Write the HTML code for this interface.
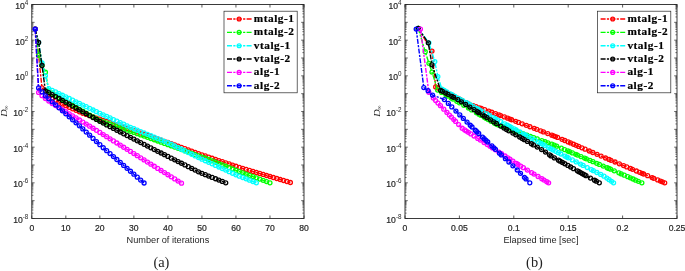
<!DOCTYPE html>
<html><head><meta charset="utf-8"><title>fig</title>
<style>
html,body{margin:0;padding:0;background:#fff;}
body{width:685px;height:271px;overflow:hidden;font-family:"Liberation Sans",sans-serif;}
svg{display:block;}
.tk{font-family:"Liberation Sans",sans-serif;font-size:8.6px;fill:#262626;stroke:#262626;stroke-width:0.2px;}
.sp{font-family:"Liberation Sans",sans-serif;font-size:6.3px;fill:#262626;}
.lb{font-family:"Liberation Sans",sans-serif;font-size:9.2px;fill:#262626;}
.cap{font-family:"Liberation Serif",serif;font-size:14.4px;fill:#222;}
.yl{font-family:"Liberation Serif",serif;font-size:9px;fill:#262626;}
.lg{font-family:"Liberation Serif",serif;font-weight:bold;font-size:10.5px;fill:#000;letter-spacing:0.5px;stroke:#000;stroke-width:0.2px;}
</style></head><body>
<svg width="685" height="271" viewBox="0 0 685 271">
<rect width="685" height="271" fill="#fff"/>
<g opacity="0.999">
<rect x="31.8" y="4.5" width="272.2" height="214.0" fill="none" stroke="#262626" stroke-width="0.9"/>
<path d="M31.80 218.5v-3M31.80 4.5v3" stroke="#262626" stroke-width="0.75"/>
<path d="M65.83 218.5v-3M65.83 4.5v3" stroke="#262626" stroke-width="0.75"/>
<path d="M99.85 218.5v-3M99.85 4.5v3" stroke="#262626" stroke-width="0.75"/>
<path d="M133.88 218.5v-3M133.88 4.5v3" stroke="#262626" stroke-width="0.75"/>
<path d="M167.90 218.5v-3M167.90 4.5v3" stroke="#262626" stroke-width="0.75"/>
<path d="M201.93 218.5v-3M201.93 4.5v3" stroke="#262626" stroke-width="0.75"/>
<path d="M235.95 218.5v-3M235.95 4.5v3" stroke="#262626" stroke-width="0.75"/>
<path d="M269.97 218.5v-3M269.97 4.5v3" stroke="#262626" stroke-width="0.75"/>
<path d="M304.00 218.5v-3M304.00 4.5v3" stroke="#262626" stroke-width="0.75"/>
<path d="M31.8 218.50h2.8M304 218.50h-2.8" stroke="#262626" stroke-width="0.7"/>
<path d="M31.8 213.13h1.6M304 213.13h-1.6" stroke="#262626" stroke-width="0.65"/>
<path d="M31.8 209.99h1.6M304 209.99h-1.6" stroke="#262626" stroke-width="0.65"/>
<path d="M31.8 207.76h1.6M304 207.76h-1.6" stroke="#262626" stroke-width="0.65"/>
<path d="M31.8 206.04h1.6M304 206.04h-1.6" stroke="#262626" stroke-width="0.65"/>
<path d="M31.8 204.62h1.6M304 204.62h-1.6" stroke="#262626" stroke-width="0.65"/>
<path d="M31.8 203.43h1.6M304 203.43h-1.6" stroke="#262626" stroke-width="0.65"/>
<path d="M31.8 202.39h1.6M304 202.39h-1.6" stroke="#262626" stroke-width="0.65"/>
<path d="M31.8 201.48h1.6M304 201.48h-1.6" stroke="#262626" stroke-width="0.65"/>
<path d="M31.8 200.67h2.8M304 200.67h-2.8" stroke="#262626" stroke-width="0.7"/>
<path d="M31.8 195.30h1.6M304 195.30h-1.6" stroke="#262626" stroke-width="0.65"/>
<path d="M31.8 192.16h1.6M304 192.16h-1.6" stroke="#262626" stroke-width="0.65"/>
<path d="M31.8 189.93h1.6M304 189.93h-1.6" stroke="#262626" stroke-width="0.65"/>
<path d="M31.8 188.20h1.6M304 188.20h-1.6" stroke="#262626" stroke-width="0.65"/>
<path d="M31.8 186.79h1.6M304 186.79h-1.6" stroke="#262626" stroke-width="0.65"/>
<path d="M31.8 185.60h1.6M304 185.60h-1.6" stroke="#262626" stroke-width="0.65"/>
<path d="M31.8 184.56h1.6M304 184.56h-1.6" stroke="#262626" stroke-width="0.65"/>
<path d="M31.8 183.65h1.6M304 183.65h-1.6" stroke="#262626" stroke-width="0.65"/>
<path d="M31.8 182.83h2.8M304 182.83h-2.8" stroke="#262626" stroke-width="0.7"/>
<path d="M31.8 177.46h1.6M304 177.46h-1.6" stroke="#262626" stroke-width="0.65"/>
<path d="M31.8 174.32h1.6M304 174.32h-1.6" stroke="#262626" stroke-width="0.65"/>
<path d="M31.8 172.10h1.6M304 172.10h-1.6" stroke="#262626" stroke-width="0.65"/>
<path d="M31.8 170.37h1.6M304 170.37h-1.6" stroke="#262626" stroke-width="0.65"/>
<path d="M31.8 168.96h1.6M304 168.96h-1.6" stroke="#262626" stroke-width="0.65"/>
<path d="M31.8 167.76h1.6M304 167.76h-1.6" stroke="#262626" stroke-width="0.65"/>
<path d="M31.8 166.73h1.6M304 166.73h-1.6" stroke="#262626" stroke-width="0.65"/>
<path d="M31.8 165.82h1.6M304 165.82h-1.6" stroke="#262626" stroke-width="0.65"/>
<path d="M31.8 165.00h2.8M304 165.00h-2.8" stroke="#262626" stroke-width="0.7"/>
<path d="M31.8 159.63h1.6M304 159.63h-1.6" stroke="#262626" stroke-width="0.65"/>
<path d="M31.8 156.49h1.6M304 156.49h-1.6" stroke="#262626" stroke-width="0.65"/>
<path d="M31.8 154.26h1.6M304 154.26h-1.6" stroke="#262626" stroke-width="0.65"/>
<path d="M31.8 152.54h1.6M304 152.54h-1.6" stroke="#262626" stroke-width="0.65"/>
<path d="M31.8 151.12h1.6M304 151.12h-1.6" stroke="#262626" stroke-width="0.65"/>
<path d="M31.8 149.93h1.6M304 149.93h-1.6" stroke="#262626" stroke-width="0.65"/>
<path d="M31.8 148.89h1.6M304 148.89h-1.6" stroke="#262626" stroke-width="0.65"/>
<path d="M31.8 147.98h1.6M304 147.98h-1.6" stroke="#262626" stroke-width="0.65"/>
<path d="M31.8 147.17h2.8M304 147.17h-2.8" stroke="#262626" stroke-width="0.7"/>
<path d="M31.8 141.80h1.6M304 141.80h-1.6" stroke="#262626" stroke-width="0.65"/>
<path d="M31.8 138.66h1.6M304 138.66h-1.6" stroke="#262626" stroke-width="0.65"/>
<path d="M31.8 136.43h1.6M304 136.43h-1.6" stroke="#262626" stroke-width="0.65"/>
<path d="M31.8 134.70h1.6M304 134.70h-1.6" stroke="#262626" stroke-width="0.65"/>
<path d="M31.8 133.29h1.6M304 133.29h-1.6" stroke="#262626" stroke-width="0.65"/>
<path d="M31.8 132.10h1.6M304 132.10h-1.6" stroke="#262626" stroke-width="0.65"/>
<path d="M31.8 131.06h1.6M304 131.06h-1.6" stroke="#262626" stroke-width="0.65"/>
<path d="M31.8 130.15h1.6M304 130.15h-1.6" stroke="#262626" stroke-width="0.65"/>
<path d="M31.8 129.33h2.8M304 129.33h-2.8" stroke="#262626" stroke-width="0.7"/>
<path d="M31.8 123.96h1.6M304 123.96h-1.6" stroke="#262626" stroke-width="0.65"/>
<path d="M31.8 120.82h1.6M304 120.82h-1.6" stroke="#262626" stroke-width="0.65"/>
<path d="M31.8 118.60h1.6M304 118.60h-1.6" stroke="#262626" stroke-width="0.65"/>
<path d="M31.8 116.87h1.6M304 116.87h-1.6" stroke="#262626" stroke-width="0.65"/>
<path d="M31.8 115.46h1.6M304 115.46h-1.6" stroke="#262626" stroke-width="0.65"/>
<path d="M31.8 114.26h1.6M304 114.26h-1.6" stroke="#262626" stroke-width="0.65"/>
<path d="M31.8 113.23h1.6M304 113.23h-1.6" stroke="#262626" stroke-width="0.65"/>
<path d="M31.8 112.32h1.6M304 112.32h-1.6" stroke="#262626" stroke-width="0.65"/>
<path d="M31.8 111.50h2.8M304 111.50h-2.8" stroke="#262626" stroke-width="0.7"/>
<path d="M31.8 106.13h1.6M304 106.13h-1.6" stroke="#262626" stroke-width="0.65"/>
<path d="M31.8 102.99h1.6M304 102.99h-1.6" stroke="#262626" stroke-width="0.65"/>
<path d="M31.8 100.76h1.6M304 100.76h-1.6" stroke="#262626" stroke-width="0.65"/>
<path d="M31.8 99.04h1.6M304 99.04h-1.6" stroke="#262626" stroke-width="0.65"/>
<path d="M31.8 97.62h1.6M304 97.62h-1.6" stroke="#262626" stroke-width="0.65"/>
<path d="M31.8 96.43h1.6M304 96.43h-1.6" stroke="#262626" stroke-width="0.65"/>
<path d="M31.8 95.39h1.6M304 95.39h-1.6" stroke="#262626" stroke-width="0.65"/>
<path d="M31.8 94.48h1.6M304 94.48h-1.6" stroke="#262626" stroke-width="0.65"/>
<path d="M31.8 93.67h2.8M304 93.67h-2.8" stroke="#262626" stroke-width="0.7"/>
<path d="M31.8 88.30h1.6M304 88.30h-1.6" stroke="#262626" stroke-width="0.65"/>
<path d="M31.8 85.16h1.6M304 85.16h-1.6" stroke="#262626" stroke-width="0.65"/>
<path d="M31.8 82.93h1.6M304 82.93h-1.6" stroke="#262626" stroke-width="0.65"/>
<path d="M31.8 81.20h1.6M304 81.20h-1.6" stroke="#262626" stroke-width="0.65"/>
<path d="M31.8 79.79h1.6M304 79.79h-1.6" stroke="#262626" stroke-width="0.65"/>
<path d="M31.8 78.60h1.6M304 78.60h-1.6" stroke="#262626" stroke-width="0.65"/>
<path d="M31.8 77.56h1.6M304 77.56h-1.6" stroke="#262626" stroke-width="0.65"/>
<path d="M31.8 76.65h1.6M304 76.65h-1.6" stroke="#262626" stroke-width="0.65"/>
<path d="M31.8 75.83h2.8M304 75.83h-2.8" stroke="#262626" stroke-width="0.7"/>
<path d="M31.8 70.46h1.6M304 70.46h-1.6" stroke="#262626" stroke-width="0.65"/>
<path d="M31.8 67.32h1.6M304 67.32h-1.6" stroke="#262626" stroke-width="0.65"/>
<path d="M31.8 65.10h1.6M304 65.10h-1.6" stroke="#262626" stroke-width="0.65"/>
<path d="M31.8 63.37h1.6M304 63.37h-1.6" stroke="#262626" stroke-width="0.65"/>
<path d="M31.8 61.96h1.6M304 61.96h-1.6" stroke="#262626" stroke-width="0.65"/>
<path d="M31.8 60.76h1.6M304 60.76h-1.6" stroke="#262626" stroke-width="0.65"/>
<path d="M31.8 59.73h1.6M304 59.73h-1.6" stroke="#262626" stroke-width="0.65"/>
<path d="M31.8 58.82h1.6M304 58.82h-1.6" stroke="#262626" stroke-width="0.65"/>
<path d="M31.8 58.00h2.8M304 58.00h-2.8" stroke="#262626" stroke-width="0.7"/>
<path d="M31.8 52.63h1.6M304 52.63h-1.6" stroke="#262626" stroke-width="0.65"/>
<path d="M31.8 49.49h1.6M304 49.49h-1.6" stroke="#262626" stroke-width="0.65"/>
<path d="M31.8 47.26h1.6M304 47.26h-1.6" stroke="#262626" stroke-width="0.65"/>
<path d="M31.8 45.54h1.6M304 45.54h-1.6" stroke="#262626" stroke-width="0.65"/>
<path d="M31.8 44.12h1.6M304 44.12h-1.6" stroke="#262626" stroke-width="0.65"/>
<path d="M31.8 42.93h1.6M304 42.93h-1.6" stroke="#262626" stroke-width="0.65"/>
<path d="M31.8 41.89h1.6M304 41.89h-1.6" stroke="#262626" stroke-width="0.65"/>
<path d="M31.8 40.98h1.6M304 40.98h-1.6" stroke="#262626" stroke-width="0.65"/>
<path d="M31.8 40.17h2.8M304 40.17h-2.8" stroke="#262626" stroke-width="0.7"/>
<path d="M31.8 34.80h1.6M304 34.80h-1.6" stroke="#262626" stroke-width="0.65"/>
<path d="M31.8 31.66h1.6M304 31.66h-1.6" stroke="#262626" stroke-width="0.65"/>
<path d="M31.8 29.43h1.6M304 29.43h-1.6" stroke="#262626" stroke-width="0.65"/>
<path d="M31.8 27.70h1.6M304 27.70h-1.6" stroke="#262626" stroke-width="0.65"/>
<path d="M31.8 26.29h1.6M304 26.29h-1.6" stroke="#262626" stroke-width="0.65"/>
<path d="M31.8 25.10h1.6M304 25.10h-1.6" stroke="#262626" stroke-width="0.65"/>
<path d="M31.8 24.06h1.6M304 24.06h-1.6" stroke="#262626" stroke-width="0.65"/>
<path d="M31.8 23.15h1.6M304 23.15h-1.6" stroke="#262626" stroke-width="0.65"/>
<path d="M31.8 22.33h2.8M304 22.33h-2.8" stroke="#262626" stroke-width="0.7"/>
<path d="M31.8 16.96h1.6M304 16.96h-1.6" stroke="#262626" stroke-width="0.65"/>
<path d="M31.8 13.82h1.6M304 13.82h-1.6" stroke="#262626" stroke-width="0.65"/>
<path d="M31.8 11.60h1.6M304 11.60h-1.6" stroke="#262626" stroke-width="0.65"/>
<path d="M31.8 9.87h1.6M304 9.87h-1.6" stroke="#262626" stroke-width="0.65"/>
<path d="M31.8 8.46h1.6M304 8.46h-1.6" stroke="#262626" stroke-width="0.65"/>
<path d="M31.8 7.26h1.6M304 7.26h-1.6" stroke="#262626" stroke-width="0.65"/>
<path d="M31.8 6.23h1.6M304 6.23h-1.6" stroke="#262626" stroke-width="0.65"/>
<path d="M31.8 5.32h1.6M304 5.32h-1.6" stroke="#262626" stroke-width="0.65"/>
<path d="M31.8 4.50h2.8M304 4.50h-2.8" stroke="#262626" stroke-width="0.7"/>
<text x="22.70" y="223.00" text-anchor="end" class="tk">10</text>
<text x="28.30" y="219.00" text-anchor="end" class="sp">-8</text>
<text x="22.70" y="187.33" text-anchor="end" class="tk">10</text>
<text x="28.30" y="183.33" text-anchor="end" class="sp">-6</text>
<text x="22.70" y="151.67" text-anchor="end" class="tk">10</text>
<text x="28.30" y="147.67" text-anchor="end" class="sp">-4</text>
<text x="22.70" y="116.00" text-anchor="end" class="tk">10</text>
<text x="28.30" y="112.00" text-anchor="end" class="sp">-2</text>
<text x="24.80" y="80.33" text-anchor="end" class="tk">10</text>
<text x="28.30" y="76.33" text-anchor="end" class="sp">0</text>
<text x="24.80" y="44.67" text-anchor="end" class="tk">10</text>
<text x="28.30" y="40.67" text-anchor="end" class="sp">2</text>
<text x="24.80" y="9.00" text-anchor="end" class="tk">10</text>
<text x="28.30" y="5.00" text-anchor="end" class="sp">4</text>
<text x="31.80" y="230.5" text-anchor="middle" class="tk">0</text>
<text x="65.83" y="230.5" text-anchor="middle" class="tk">10</text>
<text x="99.85" y="230.5" text-anchor="middle" class="tk">20</text>
<text x="133.88" y="230.5" text-anchor="middle" class="tk">30</text>
<text x="167.90" y="230.5" text-anchor="middle" class="tk">40</text>
<text x="201.93" y="230.5" text-anchor="middle" class="tk">50</text>
<text x="235.95" y="230.5" text-anchor="middle" class="tk">60</text>
<text x="269.97" y="230.5" text-anchor="middle" class="tk">70</text>
<text x="304.00" y="230.5" text-anchor="middle" class="tk">80</text>
<text x="167.90" y="242.5" text-anchor="middle" class="lb">Number of iterations</text>
<text x="161.40" y="267.1" text-anchor="middle" class="cap">(a)</text>
<text transform="translate(6.70,116.8) rotate(-90) scale(1.15,1)" class="yl"><tspan font-style="italic">D</tspan><tspan dy="1.5" dx="-0.6" font-size="5.5">∞</tspan></text>
<path d="M35.20 29.11 L38.61 55.32 L42.01 87.96 L45.41 91.35 L48.81 94.74 L52.22 98.12 L55.62 100.09 L59.02 102.05 L62.42 104.01 L65.83 105.64 L69.23 107.28 L72.63 108.82 L76.03 110.31 L79.44 111.80 L82.84 113.28 L86.24 114.47 L89.64 115.66 L93.05 116.85 L96.45 118.04 L99.85 119.20 L103.25 120.35 L106.66 121.50 L110.06 122.65 L113.46 123.80 L116.86 124.95 L120.27 126.10 L123.67 127.25 L127.07 128.40 L130.47 129.55 L133.88 130.70 L137.28 131.88 L140.68 133.05 L144.08 134.23 L147.48 135.41 L150.89 136.58 L154.29 137.76 L157.69 138.94 L161.09 140.12 L164.50 141.29 L167.90 142.48 L171.30 143.71 L174.71 144.95 L178.11 146.19 L181.51 147.43 L184.91 148.67 L188.31 149.91 L191.72 151.15 L195.12 152.39 L198.52 153.63 L201.93 154.81 L205.33 155.95 L208.73 157.10 L212.13 158.24 L215.54 159.38 L218.94 160.53 L222.34 161.67 L225.74 162.82 L229.15 163.96 L232.55 165.10 L235.95 166.25 L239.35 167.28 L242.75 168.30 L246.16 169.33 L249.56 170.36 L252.96 171.39 L256.36 172.42 L259.77 173.44 L263.17 174.47 L266.57 175.49 L269.97 176.48 L273.38 177.48 L276.78 178.48 L280.18 179.48 L283.58 180.48 L286.99 181.48 L290.39 182.48" fill="none" stroke="#ff0000" stroke-width="1.4" stroke-dasharray="5 1.3 2.2 1.3"/>
<g fill="none" stroke="#ff0000" stroke-width="1.3">
<circle cx="35.20" cy="29.11" r="2"/>
<circle cx="38.61" cy="55.32" r="2"/>
<circle cx="42.01" cy="87.96" r="2"/>
<circle cx="45.41" cy="91.35" r="2"/>
<circle cx="48.81" cy="94.74" r="2"/>
<circle cx="52.22" cy="98.12" r="2"/>
<circle cx="55.62" cy="100.09" r="2"/>
<circle cx="59.02" cy="102.05" r="2"/>
<circle cx="62.42" cy="104.01" r="2"/>
<circle cx="65.83" cy="105.64" r="2"/>
<circle cx="69.23" cy="107.28" r="2"/>
<circle cx="72.63" cy="108.82" r="2"/>
<circle cx="76.03" cy="110.31" r="2"/>
<circle cx="79.44" cy="111.80" r="2"/>
<circle cx="82.84" cy="113.28" r="2"/>
<circle cx="86.24" cy="114.47" r="2"/>
<circle cx="89.64" cy="115.66" r="2"/>
<circle cx="93.05" cy="116.85" r="2"/>
<circle cx="96.45" cy="118.04" r="2"/>
<circle cx="99.85" cy="119.20" r="2"/>
<circle cx="103.25" cy="120.35" r="2"/>
<circle cx="106.66" cy="121.50" r="2"/>
<circle cx="110.06" cy="122.65" r="2"/>
<circle cx="113.46" cy="123.80" r="2"/>
<circle cx="116.86" cy="124.95" r="2"/>
<circle cx="120.27" cy="126.10" r="2"/>
<circle cx="123.67" cy="127.25" r="2"/>
<circle cx="127.07" cy="128.40" r="2"/>
<circle cx="130.47" cy="129.55" r="2"/>
<circle cx="133.88" cy="130.70" r="2"/>
<circle cx="137.28" cy="131.88" r="2"/>
<circle cx="140.68" cy="133.05" r="2"/>
<circle cx="144.08" cy="134.23" r="2"/>
<circle cx="147.48" cy="135.41" r="2"/>
<circle cx="150.89" cy="136.58" r="2"/>
<circle cx="154.29" cy="137.76" r="2"/>
<circle cx="157.69" cy="138.94" r="2"/>
<circle cx="161.09" cy="140.12" r="2"/>
<circle cx="164.50" cy="141.29" r="2"/>
<circle cx="167.90" cy="142.48" r="2"/>
<circle cx="171.30" cy="143.71" r="2"/>
<circle cx="174.71" cy="144.95" r="2"/>
<circle cx="178.11" cy="146.19" r="2"/>
<circle cx="181.51" cy="147.43" r="2"/>
<circle cx="184.91" cy="148.67" r="2"/>
<circle cx="188.31" cy="149.91" r="2"/>
<circle cx="191.72" cy="151.15" r="2"/>
<circle cx="195.12" cy="152.39" r="2"/>
<circle cx="198.52" cy="153.63" r="2"/>
<circle cx="201.93" cy="154.81" r="2"/>
<circle cx="205.33" cy="155.95" r="2"/>
<circle cx="208.73" cy="157.10" r="2"/>
<circle cx="212.13" cy="158.24" r="2"/>
<circle cx="215.54" cy="159.38" r="2"/>
<circle cx="218.94" cy="160.53" r="2"/>
<circle cx="222.34" cy="161.67" r="2"/>
<circle cx="225.74" cy="162.82" r="2"/>
<circle cx="229.15" cy="163.96" r="2"/>
<circle cx="232.55" cy="165.10" r="2"/>
<circle cx="235.95" cy="166.25" r="2"/>
<circle cx="239.35" cy="167.28" r="2"/>
<circle cx="242.75" cy="168.30" r="2"/>
<circle cx="246.16" cy="169.33" r="2"/>
<circle cx="249.56" cy="170.36" r="2"/>
<circle cx="252.96" cy="171.39" r="2"/>
<circle cx="256.36" cy="172.42" r="2"/>
<circle cx="259.77" cy="173.44" r="2"/>
<circle cx="263.17" cy="174.47" r="2"/>
<circle cx="266.57" cy="175.49" r="2"/>
<circle cx="269.97" cy="176.48" r="2"/>
<circle cx="273.38" cy="177.48" r="2"/>
<circle cx="276.78" cy="178.48" r="2"/>
<circle cx="280.18" cy="179.48" r="2"/>
<circle cx="283.58" cy="180.48" r="2"/>
<circle cx="286.99" cy="181.48" r="2"/>
<circle cx="290.39" cy="182.48" r="2"/>
</g>
<path d="M35.20 29.11 L38.61 55.32 L42.01 65.13 L45.41 72.27 L48.81 90.99 L52.22 93.13 L55.62 95.27 L59.02 97.41 L62.42 99.55 L65.83 101.69 L69.23 103.60 L72.63 105.51 L76.03 107.42 L79.44 109.32 L82.84 111.23 L86.24 113.14 L89.64 115.05 L93.05 116.96 L96.45 118.87 L99.85 120.77 L103.25 121.94 L106.66 123.10 L110.06 124.26 L113.46 125.42 L116.86 126.58 L120.27 127.75 L123.67 128.91 L127.07 130.07 L130.47 131.24 L133.88 132.46 L137.28 133.68 L140.68 134.90 L144.08 136.12 L147.48 137.34 L150.89 138.55 L154.29 139.77 L157.69 140.99 L161.09 142.21 L164.50 143.43 L167.90 144.65 L171.30 145.88 L174.71 147.12 L178.11 148.36 L181.51 149.60 L184.91 150.84 L188.31 152.08 L191.72 153.31 L195.12 154.55 L198.52 155.79 L201.93 157.03 L205.33 158.27 L208.73 159.51 L212.13 160.82 L215.54 162.18 L218.94 163.55 L222.34 164.91 L225.74 166.27 L229.15 167.63 L232.55 168.99 L235.95 170.35 L239.35 171.60 L242.75 172.85 L246.16 174.09 L249.56 175.34 L252.96 176.59 L256.36 177.84 L259.77 179.09 L263.17 180.34 L266.57 181.59 L269.97 182.83" fill="none" stroke="#00ff00" stroke-width="1.4" stroke-dasharray="5 1.3 2.2 1.3"/>
<g fill="none" stroke="#00ff00" stroke-width="1.3">
<circle cx="35.20" cy="29.11" r="2"/>
<circle cx="38.61" cy="55.32" r="2"/>
<circle cx="42.01" cy="65.13" r="2"/>
<circle cx="45.41" cy="72.27" r="2"/>
<circle cx="48.81" cy="90.99" r="2"/>
<circle cx="52.22" cy="93.13" r="2"/>
<circle cx="55.62" cy="95.27" r="2"/>
<circle cx="59.02" cy="97.41" r="2"/>
<circle cx="62.42" cy="99.55" r="2"/>
<circle cx="65.83" cy="101.69" r="2"/>
<circle cx="69.23" cy="103.60" r="2"/>
<circle cx="72.63" cy="105.51" r="2"/>
<circle cx="76.03" cy="107.42" r="2"/>
<circle cx="79.44" cy="109.32" r="2"/>
<circle cx="82.84" cy="111.23" r="2"/>
<circle cx="86.24" cy="113.14" r="2"/>
<circle cx="89.64" cy="115.05" r="2"/>
<circle cx="93.05" cy="116.96" r="2"/>
<circle cx="96.45" cy="118.87" r="2"/>
<circle cx="99.85" cy="120.77" r="2"/>
<circle cx="103.25" cy="121.94" r="2"/>
<circle cx="106.66" cy="123.10" r="2"/>
<circle cx="110.06" cy="124.26" r="2"/>
<circle cx="113.46" cy="125.42" r="2"/>
<circle cx="116.86" cy="126.58" r="2"/>
<circle cx="120.27" cy="127.75" r="2"/>
<circle cx="123.67" cy="128.91" r="2"/>
<circle cx="127.07" cy="130.07" r="2"/>
<circle cx="130.47" cy="131.24" r="2"/>
<circle cx="133.88" cy="132.46" r="2"/>
<circle cx="137.28" cy="133.68" r="2"/>
<circle cx="140.68" cy="134.90" r="2"/>
<circle cx="144.08" cy="136.12" r="2"/>
<circle cx="147.48" cy="137.34" r="2"/>
<circle cx="150.89" cy="138.55" r="2"/>
<circle cx="154.29" cy="139.77" r="2"/>
<circle cx="157.69" cy="140.99" r="2"/>
<circle cx="161.09" cy="142.21" r="2"/>
<circle cx="164.50" cy="143.43" r="2"/>
<circle cx="167.90" cy="144.65" r="2"/>
<circle cx="171.30" cy="145.88" r="2"/>
<circle cx="174.71" cy="147.12" r="2"/>
<circle cx="178.11" cy="148.36" r="2"/>
<circle cx="181.51" cy="149.60" r="2"/>
<circle cx="184.91" cy="150.84" r="2"/>
<circle cx="188.31" cy="152.08" r="2"/>
<circle cx="191.72" cy="153.31" r="2"/>
<circle cx="195.12" cy="154.55" r="2"/>
<circle cx="198.52" cy="155.79" r="2"/>
<circle cx="201.93" cy="157.03" r="2"/>
<circle cx="205.33" cy="158.27" r="2"/>
<circle cx="208.73" cy="159.51" r="2"/>
<circle cx="212.13" cy="160.82" r="2"/>
<circle cx="215.54" cy="162.18" r="2"/>
<circle cx="218.94" cy="163.55" r="2"/>
<circle cx="222.34" cy="164.91" r="2"/>
<circle cx="225.74" cy="166.27" r="2"/>
<circle cx="229.15" cy="167.63" r="2"/>
<circle cx="232.55" cy="168.99" r="2"/>
<circle cx="235.95" cy="170.35" r="2"/>
<circle cx="239.35" cy="171.60" r="2"/>
<circle cx="242.75" cy="172.85" r="2"/>
<circle cx="246.16" cy="174.09" r="2"/>
<circle cx="249.56" cy="175.34" r="2"/>
<circle cx="252.96" cy="176.59" r="2"/>
<circle cx="256.36" cy="177.84" r="2"/>
<circle cx="259.77" cy="179.09" r="2"/>
<circle cx="263.17" cy="180.34" r="2"/>
<circle cx="266.57" cy="181.59" r="2"/>
<circle cx="269.97" cy="182.83" r="2"/>
</g>
<path d="M35.20 29.11 L38.61 42.48 L42.01 62.99 L45.41 75.83 L48.81 88.67 L52.22 90.31 L55.62 91.95 L59.02 93.60 L62.42 95.24 L65.83 96.88 L69.23 98.52 L72.63 100.16 L76.03 101.80 L79.44 103.44 L82.84 105.08 L86.24 106.72 L89.64 108.36 L93.05 110.00 L96.45 111.64 L99.85 113.28 L103.25 114.85 L106.66 116.41 L110.06 117.97 L113.46 119.54 L116.86 121.10 L120.27 122.66 L123.67 124.22 L127.07 125.79 L130.47 127.33 L133.88 128.74 L137.28 130.14 L140.68 131.54 L144.08 132.94 L147.48 134.34 L150.89 135.75 L154.29 137.15 L157.69 138.55 L161.09 139.95 L164.50 141.36 L167.90 142.76 L171.30 144.26 L174.71 145.93 L178.11 147.59 L181.51 149.25 L184.91 150.91 L188.31 152.57 L191.72 154.24 L195.12 155.90 L198.52 157.56 L201.93 159.16 L205.33 160.73 L208.73 162.29 L212.13 163.86 L215.54 165.42 L218.94 166.99 L222.34 168.55 L225.74 170.11 L229.15 171.68 L232.55 173.24 L235.95 174.81 L239.35 176.15 L242.75 177.48 L246.16 178.82 L249.56 180.16 L252.96 181.50 L256.36 182.83" fill="none" stroke="#00ffff" stroke-width="1.4" stroke-dasharray="5 1.3 2.2 1.3"/>
<g fill="none" stroke="#00ffff" stroke-width="1.3">
<circle cx="35.20" cy="29.11" r="2"/>
<circle cx="38.61" cy="42.48" r="2"/>
<circle cx="42.01" cy="62.99" r="2"/>
<circle cx="45.41" cy="75.83" r="2"/>
<circle cx="48.81" cy="88.67" r="2"/>
<circle cx="52.22" cy="90.31" r="2"/>
<circle cx="55.62" cy="91.95" r="2"/>
<circle cx="59.02" cy="93.60" r="2"/>
<circle cx="62.42" cy="95.24" r="2"/>
<circle cx="65.83" cy="96.88" r="2"/>
<circle cx="69.23" cy="98.52" r="2"/>
<circle cx="72.63" cy="100.16" r="2"/>
<circle cx="76.03" cy="101.80" r="2"/>
<circle cx="79.44" cy="103.44" r="2"/>
<circle cx="82.84" cy="105.08" r="2"/>
<circle cx="86.24" cy="106.72" r="2"/>
<circle cx="89.64" cy="108.36" r="2"/>
<circle cx="93.05" cy="110.00" r="2"/>
<circle cx="96.45" cy="111.64" r="2"/>
<circle cx="99.85" cy="113.28" r="2"/>
<circle cx="103.25" cy="114.85" r="2"/>
<circle cx="106.66" cy="116.41" r="2"/>
<circle cx="110.06" cy="117.97" r="2"/>
<circle cx="113.46" cy="119.54" r="2"/>
<circle cx="116.86" cy="121.10" r="2"/>
<circle cx="120.27" cy="122.66" r="2"/>
<circle cx="123.67" cy="124.22" r="2"/>
<circle cx="127.07" cy="125.79" r="2"/>
<circle cx="130.47" cy="127.33" r="2"/>
<circle cx="133.88" cy="128.74" r="2"/>
<circle cx="137.28" cy="130.14" r="2"/>
<circle cx="140.68" cy="131.54" r="2"/>
<circle cx="144.08" cy="132.94" r="2"/>
<circle cx="147.48" cy="134.34" r="2"/>
<circle cx="150.89" cy="135.75" r="2"/>
<circle cx="154.29" cy="137.15" r="2"/>
<circle cx="157.69" cy="138.55" r="2"/>
<circle cx="161.09" cy="139.95" r="2"/>
<circle cx="164.50" cy="141.36" r="2"/>
<circle cx="167.90" cy="142.76" r="2"/>
<circle cx="171.30" cy="144.26" r="2"/>
<circle cx="174.71" cy="145.93" r="2"/>
<circle cx="178.11" cy="147.59" r="2"/>
<circle cx="181.51" cy="149.25" r="2"/>
<circle cx="184.91" cy="150.91" r="2"/>
<circle cx="188.31" cy="152.57" r="2"/>
<circle cx="191.72" cy="154.24" r="2"/>
<circle cx="195.12" cy="155.90" r="2"/>
<circle cx="198.52" cy="157.56" r="2"/>
<circle cx="201.93" cy="159.16" r="2"/>
<circle cx="205.33" cy="160.73" r="2"/>
<circle cx="208.73" cy="162.29" r="2"/>
<circle cx="212.13" cy="163.86" r="2"/>
<circle cx="215.54" cy="165.42" r="2"/>
<circle cx="218.94" cy="166.99" r="2"/>
<circle cx="222.34" cy="168.55" r="2"/>
<circle cx="225.74" cy="170.11" r="2"/>
<circle cx="229.15" cy="171.68" r="2"/>
<circle cx="232.55" cy="173.24" r="2"/>
<circle cx="235.95" cy="174.81" r="2"/>
<circle cx="239.35" cy="176.15" r="2"/>
<circle cx="242.75" cy="177.48" r="2"/>
<circle cx="246.16" cy="178.82" r="2"/>
<circle cx="249.56" cy="180.16" r="2"/>
<circle cx="252.96" cy="181.50" r="2"/>
<circle cx="256.36" cy="182.83" r="2"/>
</g>
<path d="M35.20 29.11 L38.61 42.48 L42.01 65.49 L45.41 90.99 L48.81 92.77 L52.22 94.68 L55.62 96.58 L59.02 98.48 L62.42 100.38 L65.83 102.29 L69.23 104.19 L72.63 106.09 L76.03 107.99 L79.44 109.89 L82.84 111.80 L86.24 113.70 L89.64 115.60 L93.05 117.50 L96.45 119.41 L99.85 121.31 L103.25 123.09 L106.66 124.88 L110.06 126.66 L113.46 128.44 L116.86 130.23 L120.27 132.01 L123.67 133.79 L127.07 135.57 L130.47 137.36 L133.88 139.11 L137.28 140.86 L140.68 142.61 L144.08 144.37 L147.48 146.12 L150.89 147.87 L154.29 149.58 L157.69 151.29 L161.09 153.00 L164.50 154.71 L167.90 156.42 L171.30 158.13 L174.71 159.84 L178.11 161.55 L181.51 163.26 L184.91 164.97 L188.31 166.68 L191.72 168.39 L195.12 170.10 L198.52 171.81 L201.93 173.31 L205.33 174.67 L208.73 176.03 L212.13 177.39 L215.54 178.75 L218.94 180.11 L222.34 181.47 L225.74 182.83" fill="none" stroke="#000000" stroke-width="1.4" stroke-dasharray="5 1.3 2.2 1.3"/>
<g fill="none" stroke="#000000" stroke-width="1.3">
<circle cx="35.20" cy="29.11" r="2"/>
<circle cx="38.61" cy="42.48" r="2"/>
<circle cx="42.01" cy="65.49" r="2"/>
<circle cx="45.41" cy="90.99" r="2"/>
<circle cx="48.81" cy="92.77" r="2"/>
<circle cx="52.22" cy="94.68" r="2"/>
<circle cx="55.62" cy="96.58" r="2"/>
<circle cx="59.02" cy="98.48" r="2"/>
<circle cx="62.42" cy="100.38" r="2"/>
<circle cx="65.83" cy="102.29" r="2"/>
<circle cx="69.23" cy="104.19" r="2"/>
<circle cx="72.63" cy="106.09" r="2"/>
<circle cx="76.03" cy="107.99" r="2"/>
<circle cx="79.44" cy="109.89" r="2"/>
<circle cx="82.84" cy="111.80" r="2"/>
<circle cx="86.24" cy="113.70" r="2"/>
<circle cx="89.64" cy="115.60" r="2"/>
<circle cx="93.05" cy="117.50" r="2"/>
<circle cx="96.45" cy="119.41" r="2"/>
<circle cx="99.85" cy="121.31" r="2"/>
<circle cx="103.25" cy="123.09" r="2"/>
<circle cx="106.66" cy="124.88" r="2"/>
<circle cx="110.06" cy="126.66" r="2"/>
<circle cx="113.46" cy="128.44" r="2"/>
<circle cx="116.86" cy="130.23" r="2"/>
<circle cx="120.27" cy="132.01" r="2"/>
<circle cx="123.67" cy="133.79" r="2"/>
<circle cx="127.07" cy="135.57" r="2"/>
<circle cx="130.47" cy="137.36" r="2"/>
<circle cx="133.88" cy="139.11" r="2"/>
<circle cx="137.28" cy="140.86" r="2"/>
<circle cx="140.68" cy="142.61" r="2"/>
<circle cx="144.08" cy="144.37" r="2"/>
<circle cx="147.48" cy="146.12" r="2"/>
<circle cx="150.89" cy="147.87" r="2"/>
<circle cx="154.29" cy="149.58" r="2"/>
<circle cx="157.69" cy="151.29" r="2"/>
<circle cx="161.09" cy="153.00" r="2"/>
<circle cx="164.50" cy="154.71" r="2"/>
<circle cx="167.90" cy="156.42" r="2"/>
<circle cx="171.30" cy="158.13" r="2"/>
<circle cx="174.71" cy="159.84" r="2"/>
<circle cx="178.11" cy="161.55" r="2"/>
<circle cx="181.51" cy="163.26" r="2"/>
<circle cx="184.91" cy="164.97" r="2"/>
<circle cx="188.31" cy="166.68" r="2"/>
<circle cx="191.72" cy="168.39" r="2"/>
<circle cx="195.12" cy="170.10" r="2"/>
<circle cx="198.52" cy="171.81" r="2"/>
<circle cx="201.93" cy="173.31" r="2"/>
<circle cx="205.33" cy="174.67" r="2"/>
<circle cx="208.73" cy="176.03" r="2"/>
<circle cx="212.13" cy="177.39" r="2"/>
<circle cx="215.54" cy="178.75" r="2"/>
<circle cx="218.94" cy="180.11" r="2"/>
<circle cx="222.34" cy="181.47" r="2"/>
<circle cx="225.74" cy="182.83" r="2"/>
</g>
<path d="M35.20 29.11 L38.61 92.42 L42.01 95.63 L45.41 98.48 L48.81 100.98 L52.22 103.48 L55.62 105.54 L59.02 107.60 L62.42 109.67 L65.83 111.73 L69.23 113.80 L72.63 115.86 L76.03 117.92 L79.44 119.99 L82.84 122.05 L86.24 124.12 L89.64 126.18 L93.05 128.25 L96.45 130.32 L99.85 132.44 L103.25 134.55 L106.66 136.67 L110.06 138.78 L113.46 140.90 L116.86 143.01 L120.27 145.13 L123.67 147.24 L127.07 149.36 L130.47 151.47 L133.88 153.59 L137.28 155.70 L140.68 157.81 L144.08 159.93 L147.48 162.04 L150.89 164.16 L154.29 166.27 L157.69 168.39 L161.09 170.50 L164.50 172.62 L167.90 174.73 L171.30 176.85 L174.71 178.96 L178.11 181.08 L181.51 183.19" fill="none" stroke="#ff00ff" stroke-width="1.4" stroke-dasharray="5 1.3 2.2 1.3"/>
<g fill="none" stroke="#ff00ff" stroke-width="1.3">
<circle cx="35.20" cy="29.11" r="2"/>
<circle cx="38.61" cy="92.42" r="2"/>
<circle cx="42.01" cy="95.63" r="2"/>
<circle cx="45.41" cy="98.48" r="2"/>
<circle cx="48.81" cy="100.98" r="2"/>
<circle cx="52.22" cy="103.48" r="2"/>
<circle cx="55.62" cy="105.54" r="2"/>
<circle cx="59.02" cy="107.60" r="2"/>
<circle cx="62.42" cy="109.67" r="2"/>
<circle cx="65.83" cy="111.73" r="2"/>
<circle cx="69.23" cy="113.80" r="2"/>
<circle cx="72.63" cy="115.86" r="2"/>
<circle cx="76.03" cy="117.92" r="2"/>
<circle cx="79.44" cy="119.99" r="2"/>
<circle cx="82.84" cy="122.05" r="2"/>
<circle cx="86.24" cy="124.12" r="2"/>
<circle cx="89.64" cy="126.18" r="2"/>
<circle cx="93.05" cy="128.25" r="2"/>
<circle cx="96.45" cy="130.32" r="2"/>
<circle cx="99.85" cy="132.44" r="2"/>
<circle cx="103.25" cy="134.55" r="2"/>
<circle cx="106.66" cy="136.67" r="2"/>
<circle cx="110.06" cy="138.78" r="2"/>
<circle cx="113.46" cy="140.90" r="2"/>
<circle cx="116.86" cy="143.01" r="2"/>
<circle cx="120.27" cy="145.13" r="2"/>
<circle cx="123.67" cy="147.24" r="2"/>
<circle cx="127.07" cy="149.36" r="2"/>
<circle cx="130.47" cy="151.47" r="2"/>
<circle cx="133.88" cy="153.59" r="2"/>
<circle cx="137.28" cy="155.70" r="2"/>
<circle cx="140.68" cy="157.81" r="2"/>
<circle cx="144.08" cy="159.93" r="2"/>
<circle cx="147.48" cy="162.04" r="2"/>
<circle cx="150.89" cy="164.16" r="2"/>
<circle cx="154.29" cy="166.27" r="2"/>
<circle cx="157.69" cy="168.39" r="2"/>
<circle cx="161.09" cy="170.50" r="2"/>
<circle cx="164.50" cy="172.62" r="2"/>
<circle cx="167.90" cy="174.73" r="2"/>
<circle cx="171.30" cy="176.85" r="2"/>
<circle cx="174.71" cy="178.96" r="2"/>
<circle cx="178.11" cy="181.08" r="2"/>
<circle cx="181.51" cy="183.19" r="2"/>
</g>
<path d="M35.20 29.11 L38.61 87.96 L42.01 91.88 L45.41 95.81 L48.81 98.81 L52.22 101.82 L55.62 104.82 L59.02 107.83 L62.42 110.83 L65.83 113.84 L69.23 116.84 L72.63 119.85 L76.03 122.85 L79.44 125.86 L82.84 128.90 L86.24 132.06 L89.64 135.22 L93.05 138.38 L96.45 141.54 L99.85 144.70 L103.25 147.74 L106.66 150.68 L110.06 153.62 L113.46 156.56 L116.86 159.50 L120.27 162.44 L123.67 165.38 L127.07 168.32 L130.47 171.26 L133.88 174.19 L137.28 177.13 L140.68 180.07 L144.08 183.01" fill="none" stroke="#0000ff" stroke-width="1.4" stroke-dasharray="5 1.3 2.2 1.3"/>
<g fill="none" stroke="#0000ff" stroke-width="1.3">
<circle cx="35.20" cy="29.11" r="2" fill="#0000ff" fill-opacity="0.55"/>
<circle cx="38.61" cy="87.96" r="2"/>
<circle cx="42.01" cy="91.88" r="2"/>
<circle cx="45.41" cy="95.81" r="2"/>
<circle cx="48.81" cy="98.81" r="2"/>
<circle cx="52.22" cy="101.82" r="2"/>
<circle cx="55.62" cy="104.82" r="2"/>
<circle cx="59.02" cy="107.83" r="2"/>
<circle cx="62.42" cy="110.83" r="2"/>
<circle cx="65.83" cy="113.84" r="2"/>
<circle cx="69.23" cy="116.84" r="2"/>
<circle cx="72.63" cy="119.85" r="2"/>
<circle cx="76.03" cy="122.85" r="2"/>
<circle cx="79.44" cy="125.86" r="2"/>
<circle cx="82.84" cy="128.90" r="2"/>
<circle cx="86.24" cy="132.06" r="2"/>
<circle cx="89.64" cy="135.22" r="2"/>
<circle cx="93.05" cy="138.38" r="2"/>
<circle cx="96.45" cy="141.54" r="2"/>
<circle cx="99.85" cy="144.70" r="2"/>
<circle cx="103.25" cy="147.74" r="2"/>
<circle cx="106.66" cy="150.68" r="2"/>
<circle cx="110.06" cy="153.62" r="2"/>
<circle cx="113.46" cy="156.56" r="2"/>
<circle cx="116.86" cy="159.50" r="2"/>
<circle cx="120.27" cy="162.44" r="2"/>
<circle cx="123.67" cy="165.38" r="2"/>
<circle cx="127.07" cy="168.32" r="2"/>
<circle cx="130.47" cy="171.26" r="2"/>
<circle cx="133.88" cy="174.19" r="2"/>
<circle cx="137.28" cy="177.13" r="2"/>
<circle cx="140.68" cy="180.07" r="2"/>
<circle cx="144.08" cy="183.01" r="2"/>
</g>
<rect x="224" y="11.2" width="73.2" height="81.6" fill="#fff" stroke="#262626" stroke-width="0.7"/>
<path d="M227 19.00h24.8" stroke="#ff0000" stroke-width="1.4" stroke-dasharray="5 1.3 2.2 1.3" fill="none"/>
<circle cx="239.1" cy="19.00" r="1.9" fill="none" stroke="#ff0000" stroke-width="1.3"/>
<text transform="translate(253.8,21.90) scale(1.075,1)" class="lg">mtalg-1</text>
<path d="M227 32.35h24.8" stroke="#00ff00" stroke-width="1.4" stroke-dasharray="5 1.3 2.2 1.3" fill="none"/>
<circle cx="239.1" cy="32.35" r="1.9" fill="none" stroke="#00ff00" stroke-width="1.3"/>
<text transform="translate(253.8,35.25) scale(1.075,1)" class="lg">mtalg-2</text>
<path d="M227 45.70h24.8" stroke="#00ffff" stroke-width="1.4" stroke-dasharray="5 1.3 2.2 1.3" fill="none"/>
<circle cx="239.1" cy="45.70" r="1.9" fill="none" stroke="#00ffff" stroke-width="1.3"/>
<text transform="translate(253.8,48.60) scale(1.075,1)" class="lg">vtalg-1</text>
<path d="M227 59.05h24.8" stroke="#000000" stroke-width="1.4" stroke-dasharray="5 1.3 2.2 1.3" fill="none"/>
<circle cx="239.1" cy="59.05" r="1.9" fill="none" stroke="#000000" stroke-width="1.3"/>
<text transform="translate(253.8,61.95) scale(1.075,1)" class="lg">vtalg-2</text>
<path d="M227 72.40h24.8" stroke="#ff00ff" stroke-width="1.4" stroke-dasharray="5 1.3 2.2 1.3" fill="none"/>
<circle cx="239.1" cy="72.40" r="1.9" fill="none" stroke="#ff00ff" stroke-width="1.3"/>
<text transform="translate(253.8,75.30) scale(1.075,1)" class="lg">alg-1</text>
<path d="M227 85.75h24.8" stroke="#0000ff" stroke-width="1.4" stroke-dasharray="5 1.3 2.2 1.3" fill="none"/>
<circle cx="239.1" cy="85.75" r="1.9" fill="none" stroke="#0000ff" stroke-width="1.3"/>
<text transform="translate(253.8,88.65) scale(1.075,1)" class="lg">alg-2</text>
<rect x="405.0" y="4.5" width="272.0" height="214.0" fill="none" stroke="#262626" stroke-width="0.9"/>
<path d="M405.00 218.5v-3M405.00 4.5v3" stroke="#262626" stroke-width="0.75"/>
<path d="M459.40 218.5v-3M459.40 4.5v3" stroke="#262626" stroke-width="0.75"/>
<path d="M513.80 218.5v-3M513.80 4.5v3" stroke="#262626" stroke-width="0.75"/>
<path d="M568.20 218.5v-3M568.20 4.5v3" stroke="#262626" stroke-width="0.75"/>
<path d="M622.60 218.5v-3M622.60 4.5v3" stroke="#262626" stroke-width="0.75"/>
<path d="M677.00 218.5v-3M677.00 4.5v3" stroke="#262626" stroke-width="0.75"/>
<path d="M405.0 218.50h2.8M677 218.50h-2.8" stroke="#262626" stroke-width="0.7"/>
<path d="M405.0 213.13h1.6M677 213.13h-1.6" stroke="#262626" stroke-width="0.65"/>
<path d="M405.0 209.99h1.6M677 209.99h-1.6" stroke="#262626" stroke-width="0.65"/>
<path d="M405.0 207.76h1.6M677 207.76h-1.6" stroke="#262626" stroke-width="0.65"/>
<path d="M405.0 206.04h1.6M677 206.04h-1.6" stroke="#262626" stroke-width="0.65"/>
<path d="M405.0 204.62h1.6M677 204.62h-1.6" stroke="#262626" stroke-width="0.65"/>
<path d="M405.0 203.43h1.6M677 203.43h-1.6" stroke="#262626" stroke-width="0.65"/>
<path d="M405.0 202.39h1.6M677 202.39h-1.6" stroke="#262626" stroke-width="0.65"/>
<path d="M405.0 201.48h1.6M677 201.48h-1.6" stroke="#262626" stroke-width="0.65"/>
<path d="M405.0 200.67h2.8M677 200.67h-2.8" stroke="#262626" stroke-width="0.7"/>
<path d="M405.0 195.30h1.6M677 195.30h-1.6" stroke="#262626" stroke-width="0.65"/>
<path d="M405.0 192.16h1.6M677 192.16h-1.6" stroke="#262626" stroke-width="0.65"/>
<path d="M405.0 189.93h1.6M677 189.93h-1.6" stroke="#262626" stroke-width="0.65"/>
<path d="M405.0 188.20h1.6M677 188.20h-1.6" stroke="#262626" stroke-width="0.65"/>
<path d="M405.0 186.79h1.6M677 186.79h-1.6" stroke="#262626" stroke-width="0.65"/>
<path d="M405.0 185.60h1.6M677 185.60h-1.6" stroke="#262626" stroke-width="0.65"/>
<path d="M405.0 184.56h1.6M677 184.56h-1.6" stroke="#262626" stroke-width="0.65"/>
<path d="M405.0 183.65h1.6M677 183.65h-1.6" stroke="#262626" stroke-width="0.65"/>
<path d="M405.0 182.83h2.8M677 182.83h-2.8" stroke="#262626" stroke-width="0.7"/>
<path d="M405.0 177.46h1.6M677 177.46h-1.6" stroke="#262626" stroke-width="0.65"/>
<path d="M405.0 174.32h1.6M677 174.32h-1.6" stroke="#262626" stroke-width="0.65"/>
<path d="M405.0 172.10h1.6M677 172.10h-1.6" stroke="#262626" stroke-width="0.65"/>
<path d="M405.0 170.37h1.6M677 170.37h-1.6" stroke="#262626" stroke-width="0.65"/>
<path d="M405.0 168.96h1.6M677 168.96h-1.6" stroke="#262626" stroke-width="0.65"/>
<path d="M405.0 167.76h1.6M677 167.76h-1.6" stroke="#262626" stroke-width="0.65"/>
<path d="M405.0 166.73h1.6M677 166.73h-1.6" stroke="#262626" stroke-width="0.65"/>
<path d="M405.0 165.82h1.6M677 165.82h-1.6" stroke="#262626" stroke-width="0.65"/>
<path d="M405.0 165.00h2.8M677 165.00h-2.8" stroke="#262626" stroke-width="0.7"/>
<path d="M405.0 159.63h1.6M677 159.63h-1.6" stroke="#262626" stroke-width="0.65"/>
<path d="M405.0 156.49h1.6M677 156.49h-1.6" stroke="#262626" stroke-width="0.65"/>
<path d="M405.0 154.26h1.6M677 154.26h-1.6" stroke="#262626" stroke-width="0.65"/>
<path d="M405.0 152.54h1.6M677 152.54h-1.6" stroke="#262626" stroke-width="0.65"/>
<path d="M405.0 151.12h1.6M677 151.12h-1.6" stroke="#262626" stroke-width="0.65"/>
<path d="M405.0 149.93h1.6M677 149.93h-1.6" stroke="#262626" stroke-width="0.65"/>
<path d="M405.0 148.89h1.6M677 148.89h-1.6" stroke="#262626" stroke-width="0.65"/>
<path d="M405.0 147.98h1.6M677 147.98h-1.6" stroke="#262626" stroke-width="0.65"/>
<path d="M405.0 147.17h2.8M677 147.17h-2.8" stroke="#262626" stroke-width="0.7"/>
<path d="M405.0 141.80h1.6M677 141.80h-1.6" stroke="#262626" stroke-width="0.65"/>
<path d="M405.0 138.66h1.6M677 138.66h-1.6" stroke="#262626" stroke-width="0.65"/>
<path d="M405.0 136.43h1.6M677 136.43h-1.6" stroke="#262626" stroke-width="0.65"/>
<path d="M405.0 134.70h1.6M677 134.70h-1.6" stroke="#262626" stroke-width="0.65"/>
<path d="M405.0 133.29h1.6M677 133.29h-1.6" stroke="#262626" stroke-width="0.65"/>
<path d="M405.0 132.10h1.6M677 132.10h-1.6" stroke="#262626" stroke-width="0.65"/>
<path d="M405.0 131.06h1.6M677 131.06h-1.6" stroke="#262626" stroke-width="0.65"/>
<path d="M405.0 130.15h1.6M677 130.15h-1.6" stroke="#262626" stroke-width="0.65"/>
<path d="M405.0 129.33h2.8M677 129.33h-2.8" stroke="#262626" stroke-width="0.7"/>
<path d="M405.0 123.96h1.6M677 123.96h-1.6" stroke="#262626" stroke-width="0.65"/>
<path d="M405.0 120.82h1.6M677 120.82h-1.6" stroke="#262626" stroke-width="0.65"/>
<path d="M405.0 118.60h1.6M677 118.60h-1.6" stroke="#262626" stroke-width="0.65"/>
<path d="M405.0 116.87h1.6M677 116.87h-1.6" stroke="#262626" stroke-width="0.65"/>
<path d="M405.0 115.46h1.6M677 115.46h-1.6" stroke="#262626" stroke-width="0.65"/>
<path d="M405.0 114.26h1.6M677 114.26h-1.6" stroke="#262626" stroke-width="0.65"/>
<path d="M405.0 113.23h1.6M677 113.23h-1.6" stroke="#262626" stroke-width="0.65"/>
<path d="M405.0 112.32h1.6M677 112.32h-1.6" stroke="#262626" stroke-width="0.65"/>
<path d="M405.0 111.50h2.8M677 111.50h-2.8" stroke="#262626" stroke-width="0.7"/>
<path d="M405.0 106.13h1.6M677 106.13h-1.6" stroke="#262626" stroke-width="0.65"/>
<path d="M405.0 102.99h1.6M677 102.99h-1.6" stroke="#262626" stroke-width="0.65"/>
<path d="M405.0 100.76h1.6M677 100.76h-1.6" stroke="#262626" stroke-width="0.65"/>
<path d="M405.0 99.04h1.6M677 99.04h-1.6" stroke="#262626" stroke-width="0.65"/>
<path d="M405.0 97.62h1.6M677 97.62h-1.6" stroke="#262626" stroke-width="0.65"/>
<path d="M405.0 96.43h1.6M677 96.43h-1.6" stroke="#262626" stroke-width="0.65"/>
<path d="M405.0 95.39h1.6M677 95.39h-1.6" stroke="#262626" stroke-width="0.65"/>
<path d="M405.0 94.48h1.6M677 94.48h-1.6" stroke="#262626" stroke-width="0.65"/>
<path d="M405.0 93.67h2.8M677 93.67h-2.8" stroke="#262626" stroke-width="0.7"/>
<path d="M405.0 88.30h1.6M677 88.30h-1.6" stroke="#262626" stroke-width="0.65"/>
<path d="M405.0 85.16h1.6M677 85.16h-1.6" stroke="#262626" stroke-width="0.65"/>
<path d="M405.0 82.93h1.6M677 82.93h-1.6" stroke="#262626" stroke-width="0.65"/>
<path d="M405.0 81.20h1.6M677 81.20h-1.6" stroke="#262626" stroke-width="0.65"/>
<path d="M405.0 79.79h1.6M677 79.79h-1.6" stroke="#262626" stroke-width="0.65"/>
<path d="M405.0 78.60h1.6M677 78.60h-1.6" stroke="#262626" stroke-width="0.65"/>
<path d="M405.0 77.56h1.6M677 77.56h-1.6" stroke="#262626" stroke-width="0.65"/>
<path d="M405.0 76.65h1.6M677 76.65h-1.6" stroke="#262626" stroke-width="0.65"/>
<path d="M405.0 75.83h2.8M677 75.83h-2.8" stroke="#262626" stroke-width="0.7"/>
<path d="M405.0 70.46h1.6M677 70.46h-1.6" stroke="#262626" stroke-width="0.65"/>
<path d="M405.0 67.32h1.6M677 67.32h-1.6" stroke="#262626" stroke-width="0.65"/>
<path d="M405.0 65.10h1.6M677 65.10h-1.6" stroke="#262626" stroke-width="0.65"/>
<path d="M405.0 63.37h1.6M677 63.37h-1.6" stroke="#262626" stroke-width="0.65"/>
<path d="M405.0 61.96h1.6M677 61.96h-1.6" stroke="#262626" stroke-width="0.65"/>
<path d="M405.0 60.76h1.6M677 60.76h-1.6" stroke="#262626" stroke-width="0.65"/>
<path d="M405.0 59.73h1.6M677 59.73h-1.6" stroke="#262626" stroke-width="0.65"/>
<path d="M405.0 58.82h1.6M677 58.82h-1.6" stroke="#262626" stroke-width="0.65"/>
<path d="M405.0 58.00h2.8M677 58.00h-2.8" stroke="#262626" stroke-width="0.7"/>
<path d="M405.0 52.63h1.6M677 52.63h-1.6" stroke="#262626" stroke-width="0.65"/>
<path d="M405.0 49.49h1.6M677 49.49h-1.6" stroke="#262626" stroke-width="0.65"/>
<path d="M405.0 47.26h1.6M677 47.26h-1.6" stroke="#262626" stroke-width="0.65"/>
<path d="M405.0 45.54h1.6M677 45.54h-1.6" stroke="#262626" stroke-width="0.65"/>
<path d="M405.0 44.12h1.6M677 44.12h-1.6" stroke="#262626" stroke-width="0.65"/>
<path d="M405.0 42.93h1.6M677 42.93h-1.6" stroke="#262626" stroke-width="0.65"/>
<path d="M405.0 41.89h1.6M677 41.89h-1.6" stroke="#262626" stroke-width="0.65"/>
<path d="M405.0 40.98h1.6M677 40.98h-1.6" stroke="#262626" stroke-width="0.65"/>
<path d="M405.0 40.17h2.8M677 40.17h-2.8" stroke="#262626" stroke-width="0.7"/>
<path d="M405.0 34.80h1.6M677 34.80h-1.6" stroke="#262626" stroke-width="0.65"/>
<path d="M405.0 31.66h1.6M677 31.66h-1.6" stroke="#262626" stroke-width="0.65"/>
<path d="M405.0 29.43h1.6M677 29.43h-1.6" stroke="#262626" stroke-width="0.65"/>
<path d="M405.0 27.70h1.6M677 27.70h-1.6" stroke="#262626" stroke-width="0.65"/>
<path d="M405.0 26.29h1.6M677 26.29h-1.6" stroke="#262626" stroke-width="0.65"/>
<path d="M405.0 25.10h1.6M677 25.10h-1.6" stroke="#262626" stroke-width="0.65"/>
<path d="M405.0 24.06h1.6M677 24.06h-1.6" stroke="#262626" stroke-width="0.65"/>
<path d="M405.0 23.15h1.6M677 23.15h-1.6" stroke="#262626" stroke-width="0.65"/>
<path d="M405.0 22.33h2.8M677 22.33h-2.8" stroke="#262626" stroke-width="0.7"/>
<path d="M405.0 16.96h1.6M677 16.96h-1.6" stroke="#262626" stroke-width="0.65"/>
<path d="M405.0 13.82h1.6M677 13.82h-1.6" stroke="#262626" stroke-width="0.65"/>
<path d="M405.0 11.60h1.6M677 11.60h-1.6" stroke="#262626" stroke-width="0.65"/>
<path d="M405.0 9.87h1.6M677 9.87h-1.6" stroke="#262626" stroke-width="0.65"/>
<path d="M405.0 8.46h1.6M677 8.46h-1.6" stroke="#262626" stroke-width="0.65"/>
<path d="M405.0 7.26h1.6M677 7.26h-1.6" stroke="#262626" stroke-width="0.65"/>
<path d="M405.0 6.23h1.6M677 6.23h-1.6" stroke="#262626" stroke-width="0.65"/>
<path d="M405.0 5.32h1.6M677 5.32h-1.6" stroke="#262626" stroke-width="0.65"/>
<path d="M405.0 4.50h2.8M677 4.50h-2.8" stroke="#262626" stroke-width="0.7"/>
<text x="395.90" y="223.00" text-anchor="end" class="tk">10</text>
<text x="401.50" y="219.00" text-anchor="end" class="sp">-8</text>
<text x="395.90" y="187.33" text-anchor="end" class="tk">10</text>
<text x="401.50" y="183.33" text-anchor="end" class="sp">-6</text>
<text x="395.90" y="151.67" text-anchor="end" class="tk">10</text>
<text x="401.50" y="147.67" text-anchor="end" class="sp">-4</text>
<text x="395.90" y="116.00" text-anchor="end" class="tk">10</text>
<text x="401.50" y="112.00" text-anchor="end" class="sp">-2</text>
<text x="398.00" y="80.33" text-anchor="end" class="tk">10</text>
<text x="401.50" y="76.33" text-anchor="end" class="sp">0</text>
<text x="398.00" y="44.67" text-anchor="end" class="tk">10</text>
<text x="401.50" y="40.67" text-anchor="end" class="sp">2</text>
<text x="398.00" y="9.00" text-anchor="end" class="tk">10</text>
<text x="401.50" y="5.00" text-anchor="end" class="sp">4</text>
<text x="405.00" y="230.5" text-anchor="middle" class="tk">0</text>
<text x="459.40" y="230.5" text-anchor="middle" class="tk">0.05</text>
<text x="513.80" y="230.5" text-anchor="middle" class="tk">0.1</text>
<text x="568.20" y="230.5" text-anchor="middle" class="tk">0.15</text>
<text x="622.60" y="230.5" text-anchor="middle" class="tk">0.2</text>
<text x="677.00" y="230.5" text-anchor="middle" class="tk">0.25</text>
<text x="541.00" y="242.5" text-anchor="middle" class="lb">Elapsed time [sec]</text>
<text x="534.50" y="267.1" text-anchor="middle" class="cap">(b)</text>
<text transform="translate(379.90,116.8) rotate(-90) scale(1.15,1)" class="yl"><tspan font-style="italic">D</tspan><tspan dy="1.5" dx="-0.6" font-size="5.5">∞</tspan></text>
<path d="M418.27 28.40 L431.98 51.05 L435.68 86.89 L437.88 88.02 L440.98 89.61 L443.57 90.94 L446.85 92.62 L450.20 94.34 L451.88 95.20 L453.40 95.99 L457.38 98.03 L459.64 99.18 L461.82 100.31 L466.27 102.59 L469.15 104.07 L473.13 105.58 L476.03 106.61 L479.42 107.82 L481.35 108.51 L484.73 109.71 L488.79 111.16 L491.84 112.25 L495.53 113.56 L499.01 114.89 L500.69 115.54 L504.43 116.97 L507.67 118.21 L510.05 119.12 L511.63 119.73 L515.69 121.28 L518.59 122.39 L522.21 123.78 L526.31 125.35 L529.92 126.73 L534.15 128.35 L536.81 129.37 L540.67 130.85 L543.48 131.93 L547.75 133.56 L551.85 135.13 L553.63 135.81 L555.52 136.54 L557.65 137.44 L562.01 139.31 L564.79 140.50 L568.14 141.94 L570.52 142.96 L573.52 144.24 L576.15 145.37 L578.68 146.46 L581.91 147.84 L585.13 149.22 L589.31 151.02 L592.82 152.52 L597.07 154.34 L601.10 156.07 L605.54 157.98 L609.02 159.47 L610.99 160.31 L615.04 162.02 L619.39 163.84 L623.57 165.59 L626.75 166.93 L630.36 168.44 L632.47 169.32 L636.43 170.98 L639.62 172.32 L641.96 173.30 L643.63 174.00 L647.66 175.69 L652.09 177.54 L653.84 178.28 L657.70 179.90 L660.41 181.03 L662.35 181.84 L664.71 182.83" fill="none" stroke="#ff0000" stroke-width="1.4" stroke-dasharray="5 1.3 2.2 1.3"/>
<g fill="none" stroke="#ff0000" stroke-width="1.3">
<circle cx="418.27" cy="28.40" r="2"/>
<circle cx="431.98" cy="51.05" r="2"/>
<circle cx="435.68" cy="86.89" r="2"/>
<circle cx="437.88" cy="88.02" r="2"/>
<circle cx="440.98" cy="89.61" r="2"/>
<circle cx="443.57" cy="90.94" r="2"/>
<circle cx="446.85" cy="92.62" r="2"/>
<circle cx="450.20" cy="94.34" r="2"/>
<circle cx="451.88" cy="95.20" r="2"/>
<circle cx="453.40" cy="95.99" r="2"/>
<circle cx="457.38" cy="98.03" r="2"/>
<circle cx="459.64" cy="99.18" r="2"/>
<circle cx="461.82" cy="100.31" r="2"/>
<circle cx="466.27" cy="102.59" r="2"/>
<circle cx="469.15" cy="104.07" r="2"/>
<circle cx="473.13" cy="105.58" r="2"/>
<circle cx="476.03" cy="106.61" r="2"/>
<circle cx="479.42" cy="107.82" r="2"/>
<circle cx="481.35" cy="108.51" r="2"/>
<circle cx="484.73" cy="109.71" r="2"/>
<circle cx="488.79" cy="111.16" r="2"/>
<circle cx="491.84" cy="112.25" r="2"/>
<circle cx="495.53" cy="113.56" r="2"/>
<circle cx="499.01" cy="114.89" r="2"/>
<circle cx="500.69" cy="115.54" r="2"/>
<circle cx="504.43" cy="116.97" r="2"/>
<circle cx="507.67" cy="118.21" r="2"/>
<circle cx="510.05" cy="119.12" r="2"/>
<circle cx="511.63" cy="119.73" r="2"/>
<circle cx="515.69" cy="121.28" r="2"/>
<circle cx="518.59" cy="122.39" r="2"/>
<circle cx="522.21" cy="123.78" r="2"/>
<circle cx="526.31" cy="125.35" r="2"/>
<circle cx="529.92" cy="126.73" r="2"/>
<circle cx="534.15" cy="128.35" r="2"/>
<circle cx="536.81" cy="129.37" r="2"/>
<circle cx="540.67" cy="130.85" r="2"/>
<circle cx="543.48" cy="131.93" r="2"/>
<circle cx="547.75" cy="133.56" r="2"/>
<circle cx="551.85" cy="135.13" r="2"/>
<circle cx="553.63" cy="135.81" r="2"/>
<circle cx="555.52" cy="136.54" r="2"/>
<circle cx="557.65" cy="137.44" r="2"/>
<circle cx="562.01" cy="139.31" r="2"/>
<circle cx="564.79" cy="140.50" r="2"/>
<circle cx="568.14" cy="141.94" r="2"/>
<circle cx="570.52" cy="142.96" r="2"/>
<circle cx="573.52" cy="144.24" r="2"/>
<circle cx="576.15" cy="145.37" r="2"/>
<circle cx="578.68" cy="146.46" r="2"/>
<circle cx="581.91" cy="147.84" r="2"/>
<circle cx="585.13" cy="149.22" r="2"/>
<circle cx="589.31" cy="151.02" r="2"/>
<circle cx="592.82" cy="152.52" r="2"/>
<circle cx="597.07" cy="154.34" r="2"/>
<circle cx="601.10" cy="156.07" r="2"/>
<circle cx="605.54" cy="157.98" r="2"/>
<circle cx="609.02" cy="159.47" r="2"/>
<circle cx="610.99" cy="160.31" r="2"/>
<circle cx="615.04" cy="162.02" r="2"/>
<circle cx="619.39" cy="163.84" r="2"/>
<circle cx="623.57" cy="165.59" r="2"/>
<circle cx="626.75" cy="166.93" r="2"/>
<circle cx="630.36" cy="168.44" r="2"/>
<circle cx="632.47" cy="169.32" r="2"/>
<circle cx="636.43" cy="170.98" r="2"/>
<circle cx="639.62" cy="172.32" r="2"/>
<circle cx="641.96" cy="173.30" r="2"/>
<circle cx="643.63" cy="174.00" r="2"/>
<circle cx="647.66" cy="175.69" r="2"/>
<circle cx="652.09" cy="177.54" r="2"/>
<circle cx="653.84" cy="178.28" r="2"/>
<circle cx="657.70" cy="179.90" r="2"/>
<circle cx="660.41" cy="181.03" r="2"/>
<circle cx="662.35" cy="181.84" r="2"/>
<circle cx="664.71" cy="182.83" r="2"/>
</g>
<path d="M418.27 28.40 L425.24 51.76 L428.94 63.35 L431.98 72.09 L437.64 90.10 L441.65 92.44 L445.99 94.97 L447.71 95.98 L451.24 98.03 L452.96 99.04 L456.81 101.28 L459.44 102.82 L463.81 105.36 L468.49 108.09 L471.67 109.95 L476.41 112.71 L478.97 114.20 L480.79 115.27 L484.27 117.30 L485.95 118.28 L488.16 119.56 L491.03 121.24 L494.54 123.28 L496.61 124.30 L498.33 124.92 L502.66 126.48 L505.23 127.41 L509.84 129.07 L514.26 130.67 L517.03 131.67 L520.07 132.76 L523.30 133.93 L526.91 135.23 L530.38 136.48 L533.73 137.69 L537.27 138.97 L541.83 140.61 L545.01 141.76 L547.95 142.83 L551.81 144.22 L554.15 145.07 L556.68 146.15 L561.35 148.15 L564.58 149.53 L567.90 150.95 L569.51 151.65 L572.41 152.89 L575.82 154.35 L577.47 155.05 L581.00 156.56 L584.58 158.10 L586.35 158.86 L589.91 160.38 L592.97 161.69 L596.70 163.29 L599.39 164.44 L603.21 166.08 L607.12 167.75 L608.78 168.46 L610.55 169.22 L614.27 170.83 L618.90 172.84 L621.27 173.88 L624.29 175.19 L627.75 176.69 L630.34 177.82 L633.07 179.01 L635.64 180.13 L638.39 181.33 L641.86 182.83" fill="none" stroke="#00ff00" stroke-width="1.4" stroke-dasharray="5 1.3 2.2 1.3"/>
<g fill="none" stroke="#00ff00" stroke-width="1.3">
<circle cx="418.27" cy="28.40" r="2"/>
<circle cx="425.24" cy="51.76" r="2"/>
<circle cx="428.94" cy="63.35" r="2"/>
<circle cx="431.98" cy="72.09" r="2"/>
<circle cx="437.64" cy="90.10" r="2"/>
<circle cx="441.65" cy="92.44" r="2"/>
<circle cx="445.99" cy="94.97" r="2"/>
<circle cx="447.71" cy="95.98" r="2"/>
<circle cx="451.24" cy="98.03" r="2"/>
<circle cx="452.96" cy="99.04" r="2"/>
<circle cx="456.81" cy="101.28" r="2"/>
<circle cx="459.44" cy="102.82" r="2"/>
<circle cx="463.81" cy="105.36" r="2"/>
<circle cx="468.49" cy="108.09" r="2"/>
<circle cx="471.67" cy="109.95" r="2"/>
<circle cx="476.41" cy="112.71" r="2"/>
<circle cx="478.97" cy="114.20" r="2"/>
<circle cx="480.79" cy="115.27" r="2"/>
<circle cx="484.27" cy="117.30" r="2"/>
<circle cx="485.95" cy="118.28" r="2"/>
<circle cx="488.16" cy="119.56" r="2"/>
<circle cx="491.03" cy="121.24" r="2"/>
<circle cx="494.54" cy="123.28" r="2"/>
<circle cx="496.61" cy="124.30" r="2"/>
<circle cx="498.33" cy="124.92" r="2"/>
<circle cx="502.66" cy="126.48" r="2"/>
<circle cx="505.23" cy="127.41" r="2"/>
<circle cx="509.84" cy="129.07" r="2"/>
<circle cx="514.26" cy="130.67" r="2"/>
<circle cx="517.03" cy="131.67" r="2"/>
<circle cx="520.07" cy="132.76" r="2"/>
<circle cx="523.30" cy="133.93" r="2"/>
<circle cx="526.91" cy="135.23" r="2"/>
<circle cx="530.38" cy="136.48" r="2"/>
<circle cx="533.73" cy="137.69" r="2"/>
<circle cx="537.27" cy="138.97" r="2"/>
<circle cx="541.83" cy="140.61" r="2"/>
<circle cx="545.01" cy="141.76" r="2"/>
<circle cx="547.95" cy="142.83" r="2"/>
<circle cx="551.81" cy="144.22" r="2"/>
<circle cx="554.15" cy="145.07" r="2"/>
<circle cx="556.68" cy="146.15" r="2"/>
<circle cx="561.35" cy="148.15" r="2"/>
<circle cx="564.58" cy="149.53" r="2"/>
<circle cx="567.90" cy="150.95" r="2"/>
<circle cx="569.51" cy="151.65" r="2"/>
<circle cx="572.41" cy="152.89" r="2"/>
<circle cx="575.82" cy="154.35" r="2"/>
<circle cx="577.47" cy="155.05" r="2"/>
<circle cx="581.00" cy="156.56" r="2"/>
<circle cx="584.58" cy="158.10" r="2"/>
<circle cx="586.35" cy="158.86" r="2"/>
<circle cx="589.91" cy="160.38" r="2"/>
<circle cx="592.97" cy="161.69" r="2"/>
<circle cx="596.70" cy="163.29" r="2"/>
<circle cx="599.39" cy="164.44" r="2"/>
<circle cx="603.21" cy="166.08" r="2"/>
<circle cx="607.12" cy="167.75" r="2"/>
<circle cx="608.78" cy="168.46" r="2"/>
<circle cx="610.55" cy="169.22" r="2"/>
<circle cx="614.27" cy="170.83" r="2"/>
<circle cx="618.90" cy="172.84" r="2"/>
<circle cx="621.27" cy="173.88" r="2"/>
<circle cx="624.29" cy="175.19" r="2"/>
<circle cx="627.75" cy="176.69" r="2"/>
<circle cx="630.34" cy="177.82" r="2"/>
<circle cx="633.07" cy="179.01" r="2"/>
<circle cx="635.64" cy="180.13" r="2"/>
<circle cx="638.39" cy="181.33" r="2"/>
<circle cx="641.86" cy="182.83" r="2"/>
</g>
<path d="M418.27 28.40 L428.94 42.84 L434.81 61.57 L437.86 76.55 L441.99 89.21 L444.26 90.46 L446.75 91.84 L450.36 93.84 L451.86 94.66 L454.89 96.34 L458.40 98.28 L460.70 99.55 L462.75 100.68 L466.45 102.73 L468.55 103.89 L470.50 104.96 L473.15 106.43 L476.55 108.31 L478.26 109.26 L480.59 110.54 L482.96 111.85 L486.74 113.94 L489.41 115.42 L493.25 117.54 L495.15 118.59 L497.53 119.91 L500.79 121.68 L504.72 123.81 L507.42 125.27 L509.48 126.39 L511.24 127.34 L514.16 128.93 L516.12 129.99 L519.83 132.00 L523.63 134.06 L525.57 135.11 L527.78 136.31 L531.49 138.32 L534.73 140.07 L538.44 142.08 L540.84 143.38 L542.63 144.35 L544.87 145.57 L548.55 147.56 L550.73 148.74 L553.14 150.01 L555.74 151.35 L558.35 152.69 L560.93 154.01 L564.96 156.09 L566.82 157.04 L568.26 157.78 L572.35 159.88 L576.27 161.90 L580.49 164.06 L583.14 165.43 L587.26 167.54 L591.31 169.62 L593.36 170.68 L596.89 172.49 L600.69 174.44 L603.99 176.14 L606.88 178.04 L609.12 179.64 L611.50 181.35 L613.57 182.83" fill="none" stroke="#00ffff" stroke-width="1.4" stroke-dasharray="5 1.3 2.2 1.3"/>
<g fill="none" stroke="#00ffff" stroke-width="1.3">
<circle cx="418.27" cy="28.40" r="2"/>
<circle cx="428.94" cy="42.84" r="2"/>
<circle cx="434.81" cy="61.57" r="2"/>
<circle cx="437.86" cy="76.55" r="2"/>
<circle cx="441.99" cy="89.21" r="2"/>
<circle cx="444.26" cy="90.46" r="2"/>
<circle cx="446.75" cy="91.84" r="2"/>
<circle cx="450.36" cy="93.84" r="2"/>
<circle cx="451.86" cy="94.66" r="2"/>
<circle cx="454.89" cy="96.34" r="2"/>
<circle cx="458.40" cy="98.28" r="2"/>
<circle cx="460.70" cy="99.55" r="2"/>
<circle cx="462.75" cy="100.68" r="2"/>
<circle cx="466.45" cy="102.73" r="2"/>
<circle cx="468.55" cy="103.89" r="2"/>
<circle cx="470.50" cy="104.96" r="2"/>
<circle cx="473.15" cy="106.43" r="2"/>
<circle cx="476.55" cy="108.31" r="2"/>
<circle cx="478.26" cy="109.26" r="2"/>
<circle cx="480.59" cy="110.54" r="2"/>
<circle cx="482.96" cy="111.85" r="2"/>
<circle cx="486.74" cy="113.94" r="2"/>
<circle cx="489.41" cy="115.42" r="2"/>
<circle cx="493.25" cy="117.54" r="2"/>
<circle cx="495.15" cy="118.59" r="2"/>
<circle cx="497.53" cy="119.91" r="2"/>
<circle cx="500.79" cy="121.68" r="2"/>
<circle cx="504.72" cy="123.81" r="2"/>
<circle cx="507.42" cy="125.27" r="2"/>
<circle cx="509.48" cy="126.39" r="2"/>
<circle cx="511.24" cy="127.34" r="2"/>
<circle cx="514.16" cy="128.93" r="2"/>
<circle cx="516.12" cy="129.99" r="2"/>
<circle cx="519.83" cy="132.00" r="2"/>
<circle cx="523.63" cy="134.06" r="2"/>
<circle cx="525.57" cy="135.11" r="2"/>
<circle cx="527.78" cy="136.31" r="2"/>
<circle cx="531.49" cy="138.32" r="2"/>
<circle cx="534.73" cy="140.07" r="2"/>
<circle cx="538.44" cy="142.08" r="2"/>
<circle cx="540.84" cy="143.38" r="2"/>
<circle cx="542.63" cy="144.35" r="2"/>
<circle cx="544.87" cy="145.57" r="2"/>
<circle cx="548.55" cy="147.56" r="2"/>
<circle cx="550.73" cy="148.74" r="2"/>
<circle cx="553.14" cy="150.01" r="2"/>
<circle cx="555.74" cy="151.35" r="2"/>
<circle cx="558.35" cy="152.69" r="2"/>
<circle cx="560.93" cy="154.01" r="2"/>
<circle cx="564.96" cy="156.09" r="2"/>
<circle cx="566.82" cy="157.04" r="2"/>
<circle cx="568.26" cy="157.78" r="2"/>
<circle cx="572.35" cy="159.88" r="2"/>
<circle cx="576.27" cy="161.90" r="2"/>
<circle cx="580.49" cy="164.06" r="2"/>
<circle cx="583.14" cy="165.43" r="2"/>
<circle cx="587.26" cy="167.54" r="2"/>
<circle cx="591.31" cy="169.62" r="2"/>
<circle cx="593.36" cy="170.68" r="2"/>
<circle cx="596.89" cy="172.49" r="2"/>
<circle cx="600.69" cy="174.44" r="2"/>
<circle cx="603.99" cy="176.14" r="2"/>
<circle cx="606.88" cy="178.04" r="2"/>
<circle cx="609.12" cy="179.64" r="2"/>
<circle cx="611.50" cy="181.35" r="2"/>
<circle cx="613.57" cy="182.83" r="2"/>
</g>
<path d="M418.27 28.40 L428.28 42.84 L431.98 64.78 L440.69 90.46 L442.39 91.37 L445.66 93.11 L448.03 94.36 L451.97 96.46 L453.61 97.33 L457.82 99.61 L461.41 101.83 L465.69 104.48 L469.89 107.08 L474.09 109.69 L477.33 111.69 L478.87 112.65 L482.61 114.96 L484.63 116.21 L487.03 117.70 L490.53 119.87 L493.61 121.78 L496.35 123.48 L500.68 126.11 L504.02 128.03 L506.55 129.48 L508.81 130.78 L512.90 133.12 L515.84 134.81 L519.69 137.02 L522.25 138.48 L524.35 139.69 L527.46 141.47 L531.41 143.74 L533.43 144.90 L537.31 147.12 L541.59 149.57 L545.51 152.06 L549.49 154.84 L551.01 155.91 L554.40 157.92 L558.50 160.21 L560.15 161.14 L562.47 162.44 L564.78 163.73 L567.87 165.46 L570.64 167.01 L573.56 168.65 L577.40 170.80 L578.91 171.65 L580.57 172.58 L582.46 173.64 L584.33 174.69 L586.04 175.64 L590.47 178.04 L594.54 180.25 L596.31 181.20 L599.32 182.83" fill="none" stroke="#000000" stroke-width="1.4" stroke-dasharray="5 1.3 2.2 1.3"/>
<g fill="none" stroke="#000000" stroke-width="1.3">
<circle cx="418.27" cy="28.40" r="2"/>
<circle cx="428.28" cy="42.84" r="2"/>
<circle cx="431.98" cy="64.78" r="2"/>
<circle cx="440.69" cy="90.46" r="2"/>
<circle cx="442.39" cy="91.37" r="2"/>
<circle cx="445.66" cy="93.11" r="2"/>
<circle cx="448.03" cy="94.36" r="2"/>
<circle cx="451.97" cy="96.46" r="2"/>
<circle cx="453.61" cy="97.33" r="2"/>
<circle cx="457.82" cy="99.61" r="2"/>
<circle cx="461.41" cy="101.83" r="2"/>
<circle cx="465.69" cy="104.48" r="2"/>
<circle cx="469.89" cy="107.08" r="2"/>
<circle cx="474.09" cy="109.69" r="2"/>
<circle cx="477.33" cy="111.69" r="2"/>
<circle cx="478.87" cy="112.65" r="2"/>
<circle cx="482.61" cy="114.96" r="2"/>
<circle cx="484.63" cy="116.21" r="2"/>
<circle cx="487.03" cy="117.70" r="2"/>
<circle cx="490.53" cy="119.87" r="2"/>
<circle cx="493.61" cy="121.78" r="2"/>
<circle cx="496.35" cy="123.48" r="2"/>
<circle cx="500.68" cy="126.11" r="2"/>
<circle cx="504.02" cy="128.03" r="2"/>
<circle cx="506.55" cy="129.48" r="2"/>
<circle cx="508.81" cy="130.78" r="2"/>
<circle cx="512.90" cy="133.12" r="2"/>
<circle cx="515.84" cy="134.81" r="2"/>
<circle cx="519.69" cy="137.02" r="2"/>
<circle cx="522.25" cy="138.48" r="2"/>
<circle cx="524.35" cy="139.69" r="2"/>
<circle cx="527.46" cy="141.47" r="2"/>
<circle cx="531.41" cy="143.74" r="2"/>
<circle cx="533.43" cy="144.90" r="2"/>
<circle cx="537.31" cy="147.12" r="2"/>
<circle cx="541.59" cy="149.57" r="2"/>
<circle cx="545.51" cy="152.06" r="2"/>
<circle cx="549.49" cy="154.84" r="2"/>
<circle cx="551.01" cy="155.91" r="2"/>
<circle cx="554.40" cy="157.92" r="2"/>
<circle cx="558.50" cy="160.21" r="2"/>
<circle cx="560.15" cy="161.14" r="2"/>
<circle cx="562.47" cy="162.44" r="2"/>
<circle cx="564.78" cy="163.73" r="2"/>
<circle cx="567.87" cy="165.46" r="2"/>
<circle cx="570.64" cy="167.01" r="2"/>
<circle cx="573.56" cy="168.65" r="2"/>
<circle cx="577.40" cy="170.80" r="2"/>
<circle cx="578.91" cy="171.65" r="2"/>
<circle cx="580.57" cy="172.58" r="2"/>
<circle cx="582.46" cy="173.64" r="2"/>
<circle cx="584.33" cy="174.69" r="2"/>
<circle cx="586.04" cy="175.64" r="2"/>
<circle cx="590.47" cy="178.04" r="2"/>
<circle cx="594.54" cy="180.25" r="2"/>
<circle cx="596.31" cy="181.20" r="2"/>
<circle cx="599.32" cy="182.83" r="2"/>
</g>
<path d="M420.45 29.11 L428.83 92.24 L433.29 98.12 L435.65 100.60 L438.00 103.08 L440.46 105.66 L443.78 109.14 L446.92 112.44 L449.41 115.04 L451.40 117.11 L453.80 119.60 L455.60 121.46 L458.65 124.62 L462.17 128.26 L464.71 129.97 L466.39 131.06 L468.35 132.32 L470.87 133.95 L474.07 136.01 L477.77 138.41 L480.32 140.05 L484.08 142.48 L487.32 144.57 L490.02 146.31 L492.54 147.94 L495.42 149.80 L498.89 152.05 L501.55 153.76 L505.01 155.99 L507.78 157.79 L509.94 159.18 L512.93 161.11 L516.39 163.34 L518.04 164.41 L520.71 166.09 L523.39 167.70 L527.37 170.09 L531.53 172.58 L534.05 174.10 L538.09 176.52 L541.83 178.76 L544.03 180.08 L546.81 181.75 L548.62 182.83" fill="none" stroke="#ff00ff" stroke-width="1.4" stroke-dasharray="5 1.3 2.2 1.3"/>
<g fill="none" stroke="#ff00ff" stroke-width="1.3">
<circle cx="420.45" cy="29.11" r="2"/>
<circle cx="428.83" cy="92.24" r="2"/>
<circle cx="433.29" cy="98.12" r="2"/>
<circle cx="435.65" cy="100.60" r="2"/>
<circle cx="438.00" cy="103.08" r="2"/>
<circle cx="440.46" cy="105.66" r="2"/>
<circle cx="443.78" cy="109.14" r="2"/>
<circle cx="446.92" cy="112.44" r="2"/>
<circle cx="449.41" cy="115.04" r="2"/>
<circle cx="451.40" cy="117.11" r="2"/>
<circle cx="453.80" cy="119.60" r="2"/>
<circle cx="455.60" cy="121.46" r="2"/>
<circle cx="458.65" cy="124.62" r="2"/>
<circle cx="462.17" cy="128.26" r="2"/>
<circle cx="464.71" cy="129.97" r="2"/>
<circle cx="466.39" cy="131.06" r="2"/>
<circle cx="468.35" cy="132.32" r="2"/>
<circle cx="470.87" cy="133.95" r="2"/>
<circle cx="474.07" cy="136.01" r="2"/>
<circle cx="477.77" cy="138.41" r="2"/>
<circle cx="480.32" cy="140.05" r="2"/>
<circle cx="484.08" cy="142.48" r="2"/>
<circle cx="487.32" cy="144.57" r="2"/>
<circle cx="490.02" cy="146.31" r="2"/>
<circle cx="492.54" cy="147.94" r="2"/>
<circle cx="495.42" cy="149.80" r="2"/>
<circle cx="498.89" cy="152.05" r="2"/>
<circle cx="501.55" cy="153.76" r="2"/>
<circle cx="505.01" cy="155.99" r="2"/>
<circle cx="507.78" cy="157.79" r="2"/>
<circle cx="509.94" cy="159.18" r="2"/>
<circle cx="512.93" cy="161.11" r="2"/>
<circle cx="516.39" cy="163.34" r="2"/>
<circle cx="518.04" cy="164.41" r="2"/>
<circle cx="520.71" cy="166.09" r="2"/>
<circle cx="523.39" cy="167.70" r="2"/>
<circle cx="527.37" cy="170.09" r="2"/>
<circle cx="531.53" cy="172.58" r="2"/>
<circle cx="534.05" cy="174.10" r="2"/>
<circle cx="538.09" cy="176.52" r="2"/>
<circle cx="541.83" cy="178.76" r="2"/>
<circle cx="544.03" cy="180.08" r="2"/>
<circle cx="546.81" cy="181.75" r="2"/>
<circle cx="548.62" cy="182.83" r="2"/>
</g>
<path d="M416.21 29.11 L423.82 87.60 L428.07 90.64 L432.53 95.09 L444.39 99.55 L448.32 103.46 L451.80 106.92 L455.96 111.06 L459.83 114.91 L463.33 118.38 L467.03 122.06 L470.22 125.23 L472.02 127.02 L475.28 130.25 L476.80 131.68 L478.72 133.50 L482.54 137.11 L484.17 138.65 L485.95 140.32 L487.74 142.02 L491.88 145.93 L493.91 147.85 L495.48 149.33 L499.50 153.13 L501.36 154.89 L505.39 158.69 L508.91 162.01 L512.91 165.80 L517.26 169.98 L520.50 173.29 L524.39 177.29 L526.00 178.94 L529.79 182.83" fill="none" stroke="#0000ff" stroke-width="1.4" stroke-dasharray="5 1.3 2.2 1.3"/>
<g fill="none" stroke="#0000ff" stroke-width="1.3">
<circle cx="416.21" cy="29.11" r="2"/>
<circle cx="423.82" cy="87.60" r="2"/>
<circle cx="428.07" cy="90.64" r="2"/>
<circle cx="432.53" cy="95.09" r="2"/>
<circle cx="444.39" cy="99.55" r="2"/>
<circle cx="448.32" cy="103.46" r="2"/>
<circle cx="451.80" cy="106.92" r="2"/>
<circle cx="455.96" cy="111.06" r="2"/>
<circle cx="459.83" cy="114.91" r="2"/>
<circle cx="463.33" cy="118.38" r="2"/>
<circle cx="467.03" cy="122.06" r="2"/>
<circle cx="470.22" cy="125.23" r="2"/>
<circle cx="472.02" cy="127.02" r="2"/>
<circle cx="475.28" cy="130.25" r="2"/>
<circle cx="476.80" cy="131.68" r="2"/>
<circle cx="478.72" cy="133.50" r="2"/>
<circle cx="482.54" cy="137.11" r="2"/>
<circle cx="484.17" cy="138.65" r="2"/>
<circle cx="485.95" cy="140.32" r="2"/>
<circle cx="487.74" cy="142.02" r="2"/>
<circle cx="491.88" cy="145.93" r="2"/>
<circle cx="493.91" cy="147.85" r="2"/>
<circle cx="495.48" cy="149.33" r="2"/>
<circle cx="499.50" cy="153.13" r="2"/>
<circle cx="501.36" cy="154.89" r="2"/>
<circle cx="505.39" cy="158.69" r="2"/>
<circle cx="508.91" cy="162.01" r="2"/>
<circle cx="512.91" cy="165.80" r="2"/>
<circle cx="517.26" cy="169.98" r="2"/>
<circle cx="520.50" cy="173.29" r="2"/>
<circle cx="524.39" cy="177.29" r="2"/>
<circle cx="526.00" cy="178.94" r="2"/>
<circle cx="529.79" cy="182.83" r="2"/>
</g>
<rect x="597.6" y="11.2" width="73.2" height="81.6" fill="#fff" stroke="#262626" stroke-width="0.7"/>
<path d="M600.6 19.00h24.8" stroke="#ff0000" stroke-width="1.4" stroke-dasharray="5 1.3 2.2 1.3" fill="none"/>
<circle cx="612.7" cy="19.00" r="1.9" fill="none" stroke="#ff0000" stroke-width="1.3"/>
<text transform="translate(627.4,21.90) scale(1.075,1)" class="lg">mtalg-1</text>
<path d="M600.6 32.35h24.8" stroke="#00ff00" stroke-width="1.4" stroke-dasharray="5 1.3 2.2 1.3" fill="none"/>
<circle cx="612.7" cy="32.35" r="1.9" fill="none" stroke="#00ff00" stroke-width="1.3"/>
<text transform="translate(627.4,35.25) scale(1.075,1)" class="lg">mtalg-2</text>
<path d="M600.6 45.70h24.8" stroke="#00ffff" stroke-width="1.4" stroke-dasharray="5 1.3 2.2 1.3" fill="none"/>
<circle cx="612.7" cy="45.70" r="1.9" fill="none" stroke="#00ffff" stroke-width="1.3"/>
<text transform="translate(627.4,48.60) scale(1.075,1)" class="lg">vtalg-1</text>
<path d="M600.6 59.05h24.8" stroke="#000000" stroke-width="1.4" stroke-dasharray="5 1.3 2.2 1.3" fill="none"/>
<circle cx="612.7" cy="59.05" r="1.9" fill="none" stroke="#000000" stroke-width="1.3"/>
<text transform="translate(627.4,61.95) scale(1.075,1)" class="lg">vtalg-2</text>
<path d="M600.6 72.40h24.8" stroke="#ff00ff" stroke-width="1.4" stroke-dasharray="5 1.3 2.2 1.3" fill="none"/>
<circle cx="612.7" cy="72.40" r="1.9" fill="none" stroke="#ff00ff" stroke-width="1.3"/>
<text transform="translate(627.4,75.30) scale(1.075,1)" class="lg">alg-1</text>
<path d="M600.6 85.75h24.8" stroke="#0000ff" stroke-width="1.4" stroke-dasharray="5 1.3 2.2 1.3" fill="none"/>
<circle cx="612.7" cy="85.75" r="1.9" fill="none" stroke="#0000ff" stroke-width="1.3"/>
<text transform="translate(627.4,88.65) scale(1.075,1)" class="lg">alg-2</text>
</g>
</svg>
</body></html>
